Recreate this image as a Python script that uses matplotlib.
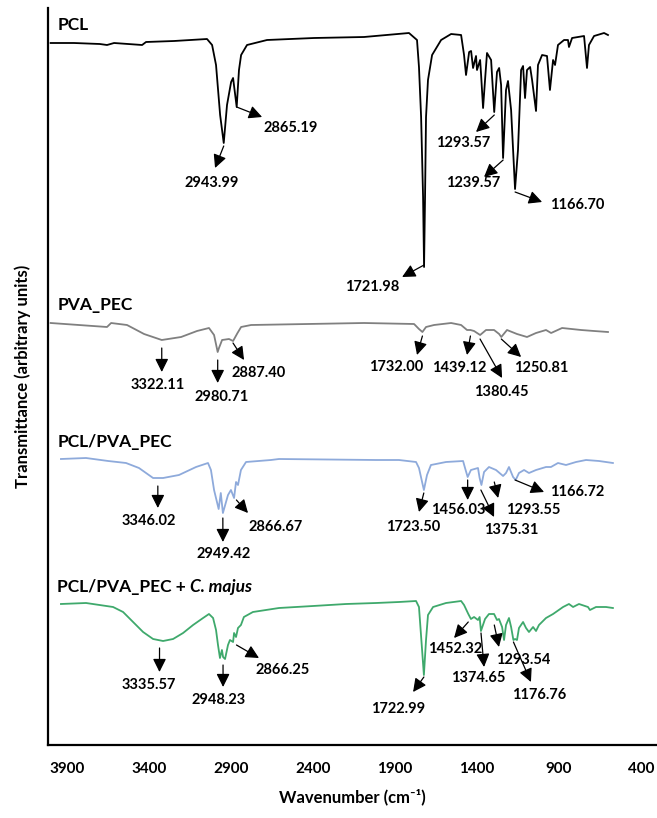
import matplotlib
matplotlib.use('Agg')
import matplotlib.pyplot as plt

plt.rcParams['font.family'] = ['Lato', 'DejaVu Sans']
plt.rcParams['font.weight'] = 'bold'

# FTIR spectra, stacked (transmittance in arbitrary units, offset per sample)
pcl_wn = [4000, 3857, 3700, 3656, 3613, 3442, 3418, 3247, 3046, 3015,
          2991, 2966, 2944, 2924, 2899, 2887, 2865, 2851, 2838, 2802,
          2680, 2393, 2088, 1814, 1765, 1753, 1740, 1728, 1722, 1716,
          1710, 1698, 1673, 1618, 1557, 1496, 1478, 1466, 1447, 1435,
          1423, 1405, 1399, 1380, 1374, 1362, 1350, 1338, 1313, 1294,
          1277, 1264, 1252, 1240, 1222, 1210, 1191, 1167, 1149, 1130,
          1118, 1106, 1094, 1075, 1063, 1039, 1027, 1002, 972, 954,
          935, 923, 905, 868, 844, 838, 819, 746, 728, 716,
          685, 624, 600]
pcl_t = [714, 714, 713, 712, 714, 712, 715, 716, 718, 712,
         692, 642, 614, 652, 675, 679, 650, 687, 702, 712,
         717, 719, 720, 724, 717, 690, 640, 560, 490, 560,
         640, 677, 702, 717, 723, 722, 702, 682, 705, 706,
         689, 701, 687, 697, 682, 649, 677, 704, 697, 645,
         685, 689, 672, 599, 667, 676, 647, 568, 607, 687,
         691, 659, 687, 690, 677, 646, 692, 702, 701, 667,
         697, 692, 712, 717, 717, 710, 719, 721, 689, 712,
         721, 724, 722]

pva_wn = [4000, 3656, 3631, 3534, 3430, 3322, 3204, 3107, 3034, 3003,
          2981, 2973, 2954, 2912, 2887, 2860, 2838, 2777, 2088, 1783,
          1753, 1732, 1710, 1661, 1557, 1496, 1460, 1439, 1417, 1380,
          1344, 1295, 1264, 1251, 1216, 1155, 1094, 1039, 978, 947,
          880, 764, 685, 600]
pva_t = [434, 430, 434, 432, 423, 417, 420, 426, 429, 422,
         405, 409, 417, 418, 416, 424, 430, 432, 434, 433,
         428, 425, 430, 432, 434, 432, 427, 427, 426, 422,
         427, 427, 423, 420, 427, 423, 420, 424, 427, 424,
         429, 427, 426, 425]

blend_wn = [3937, 3784, 3649, 3540, 3461, 3375, 3314, 3217, 3113, 3040,
            3022, 3003, 2975, 2962, 2949, 2918, 2900, 2881, 2869, 2857,
            2839, 2808, 2656, 2607, 2015, 1875, 1771, 1753, 1734, 1723,
            1704, 1680, 1588, 1484, 1472, 1456, 1436, 1393, 1383, 1372,
            1356, 1326, 1283, 1240, 1222, 1204, 1179, 1163, 1143, 1112,
            1082, 1039, 978, 948, 905, 856, 795, 734, 655, 570]
blend_t = [298, 299, 296, 294, 289, 279, 279, 282, 290, 294,
           287, 267, 248, 264, 244, 262, 267, 259, 275, 272,
           287, 295, 297, 298, 297, 297, 295, 289, 275, 267,
           282, 292, 295, 296, 289, 280, 287, 289, 279, 272,
           285, 290, 287, 281, 284, 290, 280, 277, 284, 287,
           284, 287, 290, 290, 294, 292, 295, 297, 296, 294]

cmaj_wn = [3937, 3784, 3619, 3558, 3497, 3436, 3375, 3314, 3253, 3192,
           3131, 3070, 3034, 3009, 2991, 2979, 2967, 2955, 2948, 2936,
           2918, 2906, 2887, 2881, 2869, 2857, 2839, 2821, 2766, 2607,
           2399, 2198, 2015, 1875, 1771, 1753, 1734, 1723, 1710, 1698,
           1667, 1588, 1496, 1478, 1452, 1436, 1417, 1393, 1383, 1375,
           1350, 1326, 1295, 1277, 1265, 1246, 1234, 1222, 1204, 1191,
           1177, 1167, 1155, 1143, 1118, 1100, 1082, 1057, 1039, 1021,
           978, 935, 874, 838, 813, 777, 722, 710, 673, 612,
           570]
cmaj_t = [153, 154, 150, 145, 135, 125, 118, 116, 118, 124,
          132, 139, 143, 139, 127, 112, 99, 107, 100, 98,
          112, 117, 115, 124, 120, 129, 132, 140, 145, 149,
          151, 153, 154, 155, 156, 150, 107, 82, 117, 142,
          150, 154, 156, 152, 143, 138, 140, 137, 140, 126,
          138, 143, 143, 137, 138, 130, 117, 132, 139, 130,
          117, 118, 117, 129, 135, 129, 125, 130, 126, 132,
          139, 143, 150, 153, 150, 153, 150, 147, 150, 150,
          149]

# peak labels (cm-1)
pcl_peaks = ['2943.99', '2865.19', '1721.98', '1293.57', '1239.57', '1166.70']
pva_peaks = ['3322.11', '2980.71', '2887.40', '1732.00', '1439.12', '1380.45', '1250.81']
blend_peaks = ['3346.02', '2949.42', '2866.67', '1723.50', '1456.03', '1375.31',
               '1293.55', '1166.72']
cmaj_peaks = ['3335.57', '2948.23', '2866.25', '1722.99', '1452.32', '1374.65',
              '1293.54', '1176.76']

# arrow tail y, arrow head (x, y), label centre (x, y) for each peak
pcl_pos = [(611, 2997, 589, 3015, 574), (650, 2710, 640, 2533, 629),
           (492, 1856, 480, 2039, 470), (642, 1405, 625, 1484, 614),
           (597, 1356, 580, 1423, 574), (565, 1002, 555, 789, 552)]
pva_pos = [(409, 3322, 385, 3345, 372), (397, 2981, 374, 2954, 360),
           (414, 2820, 397, 2729, 384), (421, 1765, 402, 1893, 390),
           (421, 1460, 402, 1509, 389), (418, 1246, 379, 1252, 365),
           (418, 1130, 400, 1008, 389)]
blend_pos = [(271, 3346, 249, 3400, 236), (239, 2949, 215, 2942, 203),
             (257, 2796, 244, 2625, 230), (264, 1753, 245, 1789, 230),
             (277, 1456, 257, 1515, 247), (267, 1295, 240, 1191, 227),
             (275, 1270, 259, 1057, 247), (277, 990, 265, 789, 265)]
cmaj_pos = [(109, 3336, 85, 3400, 72), (92, 2948, 70, 2973, 57),
            (112, 2729, 99, 2582, 87), (80, 1789, 65, 1881, 48),
            (135, 1539, 119, 1533, 108), (124, 1356, 90, 1393, 79),
            (132, 1265, 110, 1118, 97), (115, 1070, 75, 1021, 62)]

# (name, italic suffix, wavenumbers, transmittance, colour, peaks, layout, title y)
spectra = [
    ('PCL', '', pcl_wn, pcl_t, '#000000', pcl_peaks, pcl_pos, 727),
    ('PVA_PEC', '', pva_wn, pva_t, '#808080', pva_peaks, pva_pos, 447),
    ('PCL/PVA_PEC', '', blend_wn, blend_t, '#8eaadb', blend_peaks, blend_pos, 310),
    ('PCL/PVA_PEC + ', 'C. majus', cmaj_wn, cmaj_t, '#3fa96c',
     cmaj_peaks, cmaj_pos, 165),
]

fig = plt.figure(figsize=(6.57, 8.18), dpi=100)
ax = fig.add_axes([48 / 657, 73 / 818, 609 / 657, 737 / 818])

for name, suffix, wn, t, color, peaks, pos, title_y in spectra:
    ax.plot(wn, t, color=color, lw=1.3)
    title = ax.text(3960, title_y, name, fontsize=12.5, fontweight='bold',
                    ha='left', va='baseline')
    if suffix:
        ax.annotate(suffix, xy=(1, 0), xycoords=title, fontsize=12.5,
                    fontweight='bold', fontstyle='italic',
                    ha='left', va='bottom')
    for lab, (ty, hx, hy, lx, ly) in zip(peaks, pos):
        ax.annotate('', xy=(hx, hy), xytext=(float(lab), ty),
                    arrowprops=dict(arrowstyle='-|>,head_length=0.5,head_width=0.25',
                                    color='black', lw=0.9, mutation_scale=16,
                                    shrinkA=0, shrinkB=0))
        ax.text(lx, ly, lab, fontsize=10.5, fontweight='bold',
                ha='center', va='center')

ax.set_xlim(4016, 301)
ax.set_ylim(12, 749)
ax.set_xticks([3900, 3400, 2900, 2400, 1900, 1400, 900, 400])
ax.set_yticks([])
ax.tick_params(axis='x', length=0, pad=12, labelsize=11)
for lbl in ax.get_xticklabels():
    lbl.set_fontweight('bold')
for side in ['top', 'right']:
    ax.spines[side].set_visible(False)
for side in ['left', 'bottom']:
    ax.spines[side].set_linewidth(1.6)

ax.set_xlabel('Wavenumber (cm\u207b\u00b9)', fontsize=12, fontweight='bold',
              labelpad=9)
ax.set_ylabel('Transmittance (arbitrary units)', fontsize=12, fontweight='bold',
              labelpad=12)

fig.savefig('out.png', dpi=100)
